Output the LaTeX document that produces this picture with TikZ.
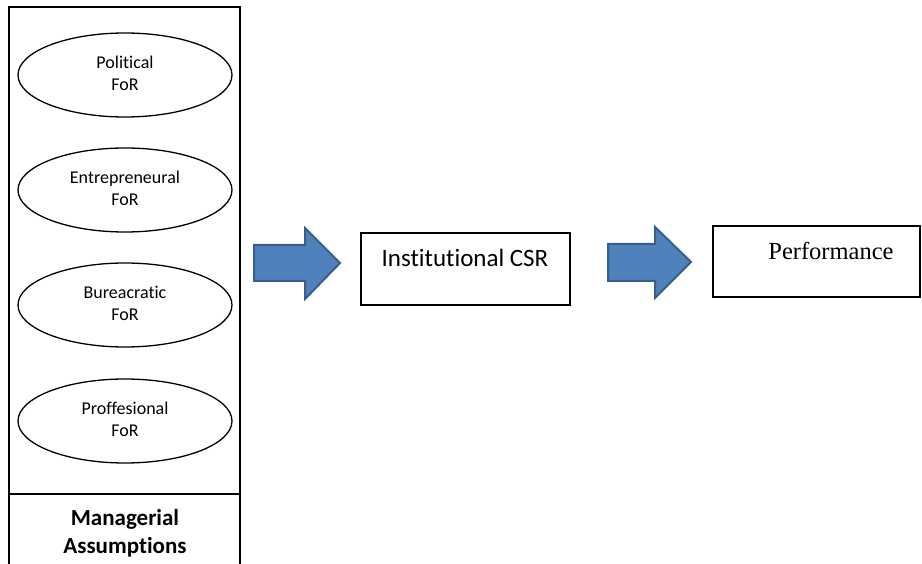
\documentclass[tikz,border=0pt]{standalone}
\usepackage{fontspec}
\setmainfont[Ligatures=NoCommon]{Carlito}
\newfontfamily\timesf{Liberation Serif}
\usetikzlibrary{shapes.geometric}
\definecolor{arrfill}{HTML}{4F81BD}
\definecolor{arrdraw}{HTML}{385D8A}
\begin{document}
\begin{tikzpicture}[x=1pt,y=-1pt,
  frame/.style={draw=black,line width=1.2pt},
  forell/.style={ellipse,draw=black,line width=1.3pt,minimum width=214pt,minimum height=84pt,inner sep=0pt,align=center,font=\fontsize{18}{22}\selectfont},
  bigarrow/.style={fill=arrfill,draw=arrdraw,line width=2pt,line join=miter}]
\useasboundingbox (0,0) rectangle (922,564);
% left frame
\draw[frame] (9,564) -- (9,7) -- (240,7) -- (240,564);
\draw[frame] (9,494) -- (240,494);
\node[font=\fontsize{23}{28}\selectfont\bfseries,align=center] (ma) at (125,533) {Managerial\\Assumptions};
\node[forell] (pol) at (125,75) {Political\\FoR\rule{0pt}{0pt}\vspace*{3pt}};
\node[forell] (ent) at (125,190) {Entrepreneural\\FoR\vspace*{3pt}};
\node[forell] (bur) at (125,305) {Bureacratic\\FoR\vspace*{3pt}};
\node[forell] (pro) at (125,421) {Proffesional\\FoR\vspace*{3pt}};
% arrows
\draw[bigarrow] (254,245) -- (305,245) -- (305,228) -- (340,263) -- (305,299) -- (305,281) -- (254,281) -- cycle;
\draw[bigarrow] (608,244) -- (655,244) -- (655,227) -- (691,262) -- (655,298) -- (655,281) -- (608,281) -- cycle;
% boxes
\draw[frame] (361,233) rectangle (570,305);
\node[font=\fontsize{25}{28}\selectfont,anchor=center] (csr) at (465,258) {Institutional CSR};
\draw[frame] (713,226) rectangle (920,297);
\node[font=\timesf\fontsize{24.5}{28}\selectfont,anchor=center] (perf) at (831,251) {Performance};
\end{tikzpicture}
\end{document}
